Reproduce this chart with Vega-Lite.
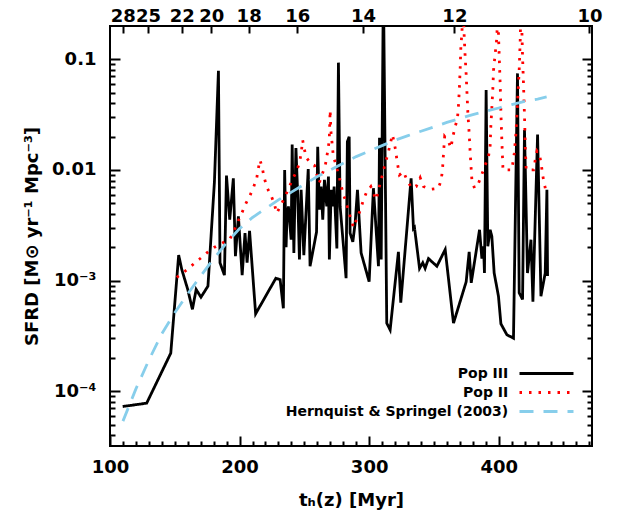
{
  "$schema": "https://vega.github.io/schema/vega-lite/v6.json",
  "autosize": {"type": "none"},
  "padding": {"left": 110, "top": 26, "right": 40, "bottom": 81},
  "width": 482,
  "height": 420,
  "background": "white",
  "datasets": {
    "sfrd": [
      {"series": "Pop III", "t": 109.8, "v": 7.28e-5},
      {"series": "Pop III", "t": 128.3, "v": 7.8e-5},
      {"series": "Pop III", "t": 146.9, "v": 2.21e-4},
      {"series": "Pop III", "t": 153.0, "v": 1.7e-3},
      {"series": "Pop III", "t": 155.4, "v": 1.26e-3},
      {"series": "Pop III", "t": 160.0, "v": 8.32e-4},
      {"series": "Pop III", "t": 163.6, "v": 5.5e-4},
      {"series": "Pop III", "t": 166.5, "v": 8.32e-4},
      {"series": "Pop III", "t": 170.2, "v": 7.08e-4},
      {"series": "Pop III", "t": 175.6, "v": 8.91e-4},
      {"series": "Pop III", "t": 180.6, "v": 7.83e-3},
      {"series": "Pop III", "t": 183.7, "v": 0.0789},
      {"series": "Pop III", "t": 184.9, "v": 1.45e-3},
      {"series": "Pop III", "t": 188.3, "v": 1.12e-3},
      {"series": "Pop III", "t": 189.9, "v": 8.91e-3},
      {"series": "Pop III", "t": 192.4, "v": 3.55e-3},
      {"series": "Pop III", "t": 195.2, "v": 8.41e-3},
      {"series": "Pop III", "t": 196.8, "v": 1.66e-3},
      {"series": "Pop III", "t": 199.1, "v": 3.8e-3},
      {"series": "Pop III", "t": 202.0, "v": 1.12e-3},
      {"series": "Pop III", "t": 204.2, "v": 2.69e-3},
      {"series": "Pop III", "t": 205.8, "v": 1.45e-3},
      {"series": "Pop III", "t": 207.7, "v": 2.82e-3},
      {"series": "Pop III", "t": 212.4, "v": 5.01e-4},
      {"series": "Pop III", "t": 228.0, "v": 1.05e-3},
      {"series": "Pop III", "t": 231.3, "v": 1.02e-3},
      {"series": "Pop III", "t": 233.8, "v": 5.62e-4},
      {"series": "Pop III", "t": 234.8, "v": 0.01},
      {"series": "Pop III", "t": 235.9, "v": 2.0e-3},
      {"series": "Pop III", "t": 236.6, "v": 3.8e-3},
      {"series": "Pop III", "t": 237.7, "v": 4.68e-3},
      {"series": "Pop III", "t": 239.8, "v": 2.34e-3},
      {"series": "Pop III", "t": 240.6, "v": 0.017},
      {"series": "Pop III", "t": 241.9, "v": 1.78e-3},
      {"series": "Pop III", "t": 243.5, "v": 0.0158},
      {"series": "Pop III", "t": 244.9, "v": 5.89e-3},
      {"series": "Pop III", "t": 246.2, "v": 1.55e-3},
      {"series": "Pop III", "t": 247.5, "v": 6.61e-3},
      {"series": "Pop III", "t": 249.6, "v": 1.7e-3},
      {"series": "Pop III", "t": 253.0, "v": 0.0102},
      {"series": "Pop III", "t": 254.4, "v": 1.35e-3},
      {"series": "Pop III", "t": 259.4, "v": 2.75e-3},
      {"series": "Pop III", "t": 260.3, "v": 0.0162},
      {"series": "Pop III", "t": 261.6, "v": 4.37e-3},
      {"series": "Pop III", "t": 262.9, "v": 7.08e-3},
      {"series": "Pop III", "t": 264.2, "v": 3.55e-3},
      {"series": "Pop III", "t": 265.5, "v": 8.13e-3},
      {"series": "Pop III", "t": 267.3, "v": 4.68e-3},
      {"series": "Pop III", "t": 268.6, "v": 8.71e-3},
      {"series": "Pop III", "t": 269.3, "v": 1.55e-3},
      {"series": "Pop III", "t": 270.7, "v": 6.61e-3},
      {"series": "Pop III", "t": 271.9, "v": 4.68e-3},
      {"series": "Pop III", "t": 273.0, "v": 7.08e-3},
      {"series": "Pop III", "t": 275.1, "v": 1.95e-3},
      {"series": "Pop III", "t": 276.3, "v": 0.0933},
      {"series": "Pop III", "t": 277.6, "v": 4.68e-3},
      {"series": "Pop III", "t": 280.2, "v": 2.04e-3},
      {"series": "Pop III", "t": 282.2, "v": 1.05e-3},
      {"series": "Pop III", "t": 283.2, "v": 0.018},
      {"series": "Pop III", "t": 284.6, "v": 0.02},
      {"series": "Pop III", "t": 285.3, "v": 2.69e-3},
      {"series": "Pop III", "t": 287.4, "v": 2.24e-3},
      {"series": "Pop III", "t": 289.2, "v": 3.31e-3},
      {"series": "Pop III", "t": 291.0, "v": 6.61e-3},
      {"series": "Pop III", "t": 293.8, "v": 1.78e-3},
      {"series": "Pop III", "t": 300.0, "v": 9.77e-4},
      {"series": "Pop III", "t": 303.3, "v": 6.84e-3},
      {"series": "Pop III", "t": 307.2, "v": 1.35e-3},
      {"series": "Pop III", "t": 308.0, "v": 0.0195},
      {"series": "Pop III", "t": 309.3, "v": 1.55e-3},
      {"series": "Pop III", "t": 311.0, "v": 0.5},
      {"series": "Pop III", "t": 313.6, "v": 4.12e-4},
      {"series": "Pop III", "t": 316.2, "v": 3.59e-4},
      {"series": "Pop III", "t": 322.6, "v": 1.82e-3},
      {"series": "Pop III", "t": 324.4, "v": 6.31e-4},
      {"series": "Pop III", "t": 332.4, "v": 8.41e-3},
      {"series": "Pop III", "t": 334.2, "v": 2.95e-3},
      {"series": "Pop III", "t": 335.0, "v": 3.02e-3},
      {"series": "Pop III", "t": 338.9, "v": 1.29e-3},
      {"series": "Pop III", "t": 341.4, "v": 1.45e-3},
      {"series": "Pop III", "t": 343.2, "v": 1.29e-3},
      {"series": "Pop III", "t": 345.8, "v": 1.58e-3},
      {"series": "Pop III", "t": 352.3, "v": 1.35e-3},
      {"series": "Pop III", "t": 358.7, "v": 1.91e-3},
      {"series": "Pop III", "t": 365.1, "v": 4.12e-4},
      {"series": "Pop III", "t": 374.9, "v": 9.77e-4},
      {"series": "Pop III", "t": 377.2, "v": 1.82e-3},
      {"series": "Pop III", "t": 378.8, "v": 9.55e-4},
      {"series": "Pop III", "t": 385.2, "v": 2.88e-3},
      {"series": "Pop III", "t": 387.0, "v": 1.58e-3},
      {"series": "Pop III", "t": 388.3, "v": 2.04e-3},
      {"series": "Pop III", "t": 389.0, "v": 1.17e-3},
      {"series": "Pop III", "t": 390.3, "v": 0.0528},
      {"series": "Pop III", "t": 391.6, "v": 2.04e-3},
      {"series": "Pop III", "t": 393.4, "v": 2.88e-3},
      {"series": "Pop III", "t": 394.7, "v": 2.51e-3},
      {"series": "Pop III", "t": 396.5, "v": 1.17e-3},
      {"series": "Pop III", "t": 399.8, "v": 7.24e-4},
      {"series": "Pop III", "t": 401.7, "v": 4.07e-4},
      {"series": "Pop III", "t": 406.3, "v": 3.24e-4},
      {"series": "Pop III", "t": 411.4, "v": 3.02e-4},
      {"series": "Pop III", "t": 414.5, "v": 0.0746},
      {"series": "Pop III", "t": 415.8, "v": 7.76e-4},
      {"series": "Pop III", "t": 418.4, "v": 6.76e-4},
      {"series": "Pop III", "t": 419.9, "v": 0.0229},
      {"series": "Pop III", "t": 422.2, "v": 1.17e-3},
      {"series": "Pop III", "t": 424.9, "v": 2.34e-3},
      {"series": "Pop III", "t": 426.4, "v": 6.46e-4},
      {"series": "Pop III", "t": 430.0, "v": 0.0209},
      {"series": "Pop III", "t": 432.6, "v": 7.24e-4},
      {"series": "Pop III", "t": 435.9, "v": 1.17e-3},
      {"series": "Pop III", "t": 437.2, "v": 6.61e-3},
      {"series": "Pop III", "t": 437.7, "v": 1.1e-3},

      {"series": "Pop II", "t": 151.5, "v": 1.07e-3},
      {"series": "Pop II", "t": 157.4, "v": 1.2e-3},
      {"series": "Pop II", "t": 162.5, "v": 1.35e-3},
      {"series": "Pop II", "t": 168.7, "v": 1.55e-3},
      {"series": "Pop II", "t": 174.7, "v": 1.78e-3},
      {"series": "Pop II", "t": 180.6, "v": 2.0e-3},
      {"series": "Pop II", "t": 186.8, "v": 2.19e-3},
      {"series": "Pop II", "t": 192.7, "v": 2.4e-3},
      {"series": "Pop II", "t": 196.0, "v": 2.88e-3},
      {"series": "Pop II", "t": 198.6, "v": 3.39e-3},
      {"series": "Pop II", "t": 201.7, "v": 4.07e-3},
      {"series": "Pop II", "t": 205.0, "v": 5.01e-3},
      {"series": "Pop II", "t": 208.1, "v": 5.89e-3},
      {"series": "Pop II", "t": 211.0, "v": 7.08e-3},
      {"series": "Pop II", "t": 213.3, "v": 8.51e-3},
      {"series": "Pop II", "t": 214.5, "v": 0.01035},
      {"series": "Pop II", "t": 215.8, "v": 0.0123},
      {"series": "Pop II", "t": 217.6, "v": 0.01035},
      {"series": "Pop II", "t": 219.0, "v": 8.51e-3},
      {"series": "Pop II", "t": 221.2, "v": 6.92e-3},
      {"series": "Pop II", "t": 224.3, "v": 5.89e-3},
      {"series": "Pop II", "t": 226.9, "v": 4.9e-3},
      {"series": "Pop II", "t": 228.7, "v": 4.07e-3},
      {"series": "Pop II", "t": 231.3, "v": 4.68e-3},
      {"series": "Pop II", "t": 234.4, "v": 5.5e-3},
      {"series": "Pop II", "t": 237.7, "v": 6.76e-3},
      {"series": "Pop II", "t": 240.3, "v": 7.94e-3},
      {"series": "Pop II", "t": 243.6, "v": 9.55e-3},
      {"series": "Pop II", "t": 246.2, "v": 0.0115},
      {"series": "Pop II", "t": 247.5, "v": 0.0141},
      {"series": "Pop II", "t": 248.7, "v": 0.0186},
      {"series": "Pop II", "t": 249.8, "v": 0.0158},
      {"series": "Pop II", "t": 251.4, "v": 0.013},
      {"series": "Pop II", "t": 255.0, "v": 0.0114},
      {"series": "Pop II", "t": 257.8, "v": 0.011},
      {"series": "Pop II", "t": 259.6, "v": 9.12e-3},
      {"series": "Pop II", "t": 261.6, "v": 7.67e-3},
      {"series": "Pop II", "t": 263.5, "v": 9.02e-3},
      {"series": "Pop II", "t": 266.0, "v": 0.0107},
      {"series": "Pop II", "t": 267.3, "v": 0.0132},
      {"series": "Pop II", "t": 268.6, "v": 0.0162},
      {"series": "Pop II", "t": 269.3, "v": 0.02},
      {"series": "Pop II", "t": 269.9, "v": 0.0347},
      {"series": "Pop II", "t": 270.5, "v": 0.0224},
      {"series": "Pop II", "t": 272.4, "v": 0.0132},
      {"series": "Pop II", "t": 274.5, "v": 0.0111},
      {"series": "Pop II", "t": 276.3, "v": 9.12e-3},
      {"series": "Pop II", "t": 278.1, "v": 7.59e-3},
      {"series": "Pop II", "t": 279.6, "v": 6.24e-3},
      {"series": "Pop II", "t": 282.2, "v": 5.13e-3},
      {"series": "Pop II", "t": 284.0, "v": 4.27e-3},
      {"series": "Pop II", "t": 286.1, "v": 3.55e-3},
      {"series": "Pop II", "t": 287.9, "v": 3.02e-3},
      {"series": "Pop II", "t": 290.5, "v": 3.63e-3},
      {"series": "Pop II", "t": 293.3, "v": 4.37e-3},
      {"series": "Pop II", "t": 295.6, "v": 5.37e-3},
      {"series": "Pop II", "t": 298.2, "v": 6.38e-3},
      {"series": "Pop II", "t": 301.3, "v": 7.08e-3},
      {"series": "Pop II", "t": 303.3, "v": 6.17e-3},
      {"series": "Pop II", "t": 305.2, "v": 5.37e-3},
      {"series": "Pop II", "t": 307.2, "v": 6.38e-3},
      {"series": "Pop II", "t": 308.5, "v": 7.67e-3},
      {"series": "Pop II", "t": 310.6, "v": 9.33e-3},
      {"series": "Pop II", "t": 312.4, "v": 0.0115},
      {"series": "Pop II", "t": 314.4, "v": 0.0138},
      {"series": "Pop II", "t": 316.2, "v": 0.017},
      {"series": "Pop II", "t": 318.0, "v": 0.0209},
      {"series": "Pop II", "t": 320.6, "v": 0.0148},
      {"series": "Pop II", "t": 321.4, "v": 0.0123},
      {"series": "Pop II", "t": 323.4, "v": 9.02e-3},
      {"series": "Pop II", "t": 326.5, "v": 9.66e-3},
      {"series": "Pop II", "t": 329.1, "v": 8.13e-3},
      {"series": "Pop II", "t": 332.9, "v": 6.84e-3},
      {"series": "Pop II", "t": 336.3, "v": 7.08e-3},
      {"series": "Pop II", "t": 339.4, "v": 8.51e-3},
      {"series": "Pop II", "t": 341.9, "v": 7.08e-3},
      {"series": "Pop II", "t": 347.1, "v": 6.68e-3},
      {"series": "Pop II", "t": 353.5, "v": 6.84e-3},
      {"series": "Pop II", "t": 355.6, "v": 8.13e-3},
      {"series": "Pop II", "t": 356.6, "v": 0.01},
      {"series": "Pop II", "t": 357.4, "v": 0.0141},
      {"series": "Pop II", "t": 358.3, "v": 0.02},
      {"series": "Pop II", "t": 361.3, "v": 0.018},
      {"series": "Pop II", "t": 363.1, "v": 0.0158},
      {"series": "Pop II", "t": 364.6, "v": 0.02},
      {"series": "Pop II", "t": 366.4, "v": 0.0245},
      {"series": "Pop II", "t": 368.2, "v": 0.0295},
      {"series": "Pop II", "t": 369.0, "v": 0.0389},
      {"series": "Pop II", "t": 369.7, "v": 0.0562},
      {"series": "Pop II", "t": 370.3, "v": 0.0851},
      {"series": "Pop II", "t": 370.8, "v": 0.13},
      {"series": "Pop II", "t": 371.6, "v": 0.172},
      {"series": "Pop II", "t": 372.5, "v": 0.316},
      {"series": "Pop II", "t": 373.4, "v": 0.158},
      {"series": "Pop II", "t": 374.1, "v": 0.106},
      {"series": "Pop II", "t": 374.9, "v": 0.0724},
      {"series": "Pop II", "t": 376.2, "v": 0.0324},
      {"series": "Pop II", "t": 377.2, "v": 0.0214},
      {"series": "Pop II", "t": 378.0, "v": 0.0141},
      {"series": "Pop II", "t": 378.8, "v": 0.01},
      {"series": "Pop II", "t": 379.3, "v": 8.13e-3},
      {"series": "Pop II", "t": 381.3, "v": 6.84e-3},
      {"series": "Pop II", "t": 384.4, "v": 7.59e-3},
      {"series": "Pop II", "t": 387.0, "v": 9.12e-3},
      {"series": "Pop II", "t": 389.6, "v": 0.0111},
      {"series": "Pop II", "t": 392.1, "v": 0.0132},
      {"series": "Pop II", "t": 393.4, "v": 0.0166},
      {"series": "Pop II", "t": 393.9, "v": 0.0245},
      {"series": "Pop II", "t": 394.7, "v": 0.0363},
      {"series": "Pop II", "t": 395.5, "v": 0.055},
      {"series": "Pop II", "t": 396.0, "v": 0.0794},
      {"series": "Pop II", "t": 397.3, "v": 0.113},
      {"series": "Pop II", "t": 398.6, "v": 0.158},
      {"series": "Pop II", "t": 399.2, "v": 0.316},
      {"series": "Pop II", "t": 399.9, "v": 0.158},
      {"series": "Pop II", "t": 400.4, "v": 0.106},
      {"series": "Pop II", "t": 401.2, "v": 0.0562},
      {"series": "Pop II", "t": 401.7, "v": 0.0324},
      {"series": "Pop II", "t": 402.5, "v": 0.0174},
      {"series": "Pop II", "t": 403.3, "v": 0.01},
      {"series": "Pop II", "t": 410.1, "v": 0.01},
      {"series": "Pop II", "t": 412.0, "v": 0.0141},
      {"series": "Pop II", "t": 413.3, "v": 0.0214},
      {"series": "Pop II", "t": 414.5, "v": 0.0398},
      {"series": "Pop II", "t": 415.8, "v": 0.0794},
      {"series": "Pop II", "t": 416.6, "v": 0.149},
      {"series": "Pop II", "t": 417.2, "v": 0.316},
      {"series": "Pop II", "t": 417.9, "v": 0.178},
      {"series": "Pop II", "t": 418.4, "v": 0.106},
      {"series": "Pop II", "t": 419.2, "v": 0.0562},
      {"series": "Pop II", "t": 420.0, "v": 0.0282},
      {"series": "Pop II", "t": 420.5, "v": 0.0162},
      {"series": "Pop II", "t": 421.2, "v": 0.01},
      {"series": "Pop II", "t": 426.9, "v": 0.01},
      {"series": "Pop II", "t": 428.2, "v": 0.0123},
      {"series": "Pop II", "t": 429.5, "v": 0.0148},
      {"series": "Pop II", "t": 431.5, "v": 0.0136},
      {"series": "Pop II", "t": 432.8, "v": 0.0114},
      {"series": "Pop II", "t": 433.8, "v": 9.12e-3},
      {"series": "Pop II", "t": 435.1, "v": 7.59e-3},
      {"series": "Pop II", "t": 436.7, "v": 6.24e-3},

      {"series": "Hernquist & Springel (2003)", "t": 110, "v": 5.37e-5},
      {"series": "Hernquist & Springel (2003)", "t": 120, "v": 1.05e-4},
      {"series": "Hernquist & Springel (2003)", "t": 130, "v": 1.91e-4},
      {"series": "Hernquist & Springel (2003)", "t": 140, "v": 3.31e-4},
      {"series": "Hernquist & Springel (2003)", "t": 150, "v": 5.13e-4},
      {"series": "Hernquist & Springel (2003)", "t": 160, "v": 7.59e-4},
      {"series": "Hernquist & Springel (2003)", "t": 170, "v": 1.1e-3},
      {"series": "Hernquist & Springel (2003)", "t": 180, "v": 1.58e-3},
      {"series": "Hernquist & Springel (2003)", "t": 190, "v": 2.19e-3},
      {"series": "Hernquist & Springel (2003)", "t": 200, "v": 2.95e-3},
      {"series": "Hernquist & Springel (2003)", "t": 210, "v": 3.72e-3},
      {"series": "Hernquist & Springel (2003)", "t": 220, "v": 4.47e-3},
      {"series": "Hernquist & Springel (2003)", "t": 230, "v": 5.37e-3},
      {"series": "Hernquist & Springel (2003)", "t": 240, "v": 6.31e-3},
      {"series": "Hernquist & Springel (2003)", "t": 250, "v": 7.41e-3},
      {"series": "Hernquist & Springel (2003)", "t": 260, "v": 8.71e-3},
      {"series": "Hernquist & Springel (2003)", "t": 270, "v": 0.01},
      {"series": "Hernquist & Springel (2003)", "t": 280, "v": 0.0115},
      {"series": "Hernquist & Springel (2003)", "t": 290, "v": 0.0132},
      {"series": "Hernquist & Springel (2003)", "t": 300, "v": 0.0148},
      {"series": "Hernquist & Springel (2003)", "t": 310, "v": 0.0166},
      {"series": "Hernquist & Springel (2003)", "t": 320, "v": 0.0186},
      {"series": "Hernquist & Springel (2003)", "t": 330, "v": 0.0204},
      {"series": "Hernquist & Springel (2003)", "t": 340, "v": 0.0224},
      {"series": "Hernquist & Springel (2003)", "t": 350, "v": 0.0245},
      {"series": "Hernquist & Springel (2003)", "t": 360, "v": 0.0269},
      {"series": "Hernquist & Springel (2003)", "t": 370, "v": 0.0292},
      {"series": "Hernquist & Springel (2003)", "t": 380, "v": 0.0316},
      {"series": "Hernquist & Springel (2003)", "t": 390, "v": 0.0339},
      {"series": "Hernquist & Springel (2003)", "t": 400, "v": 0.0363},
      {"series": "Hernquist & Springel (2003)", "t": 410, "v": 0.0389},
      {"series": "Hernquist & Springel (2003)", "t": 420, "v": 0.0417},
      {"series": "Hernquist & Springel (2003)", "t": 430, "v": 0.0437},
      {"series": "Hernquist & Springel (2003)", "t": 437, "v": 0.0457}
    ]
  },
  "data": {"name": "sfrd"},
  "resolve": {"axis": {"x": "independent", "y": "independent"}},
  "layer": [
    {
      "mark": {"type": "line", "clip": true, "strokeWidth": 2.8},
      "encoding": {
        "x": {"field": "t", "type": "quantitative",
          "scale": {"domain": [100, 472], "nice": false, "zero": false},
          "axis": {"orient": "bottom", "values": [100, 200, 300, 400], "tickSize": -10, "labelPadding": 22, "title": "tₕ(z)  [Myr]", "titlePadding": 15}},
        "y": {"field": "v", "type": "quantitative",
          "scale": {"type": "log", "domain": [3.2e-5, 0.2], "nice": false},
          "axis": {"orient": "left", "values": [0.0001, 0.001, 0.01, 0.1], "tickSize": -10, "labelPadding": 24,
            "labelExpr": "datum.value > 0.05 ? '0.1' : datum.value > 0.005 ? '0.01' : datum.value > 0.0005 ? '10⁻³' : '10⁻⁴'",
            "title": "SFRD [M⊙ yr⁻¹ Mpc⁻³]", "titlePadding": 10}},
        "color": {"field": "series", "type": "nominal",
          "scale": {"domain": ["Pop III", "Pop II", "Hernquist & Springel (2003)"], "range": ["black", "#ff0000", "#87ceeb"]},
          "legend": {"orient": "none", "legendX": 425, "legendY": 336, "title": null}},
        "strokeDash": {"field": "series", "type": "nominal",
          "scale": {"domain": ["Pop III", "Pop II", "Hernquist & Springel (2003)"], "range": [[1, 0], [2.5, 7], [14, 10]]},
          "legend": {"orient": "none", "legendX": 425, "legendY": 336, "title": null}}
      }
    },
    {
      "mark": {"type": "point", "opacity": 0},
      "encoding": {
        "x": {"field": "t", "type": "quantitative",
          "axis": {"orient": "bottom", "values": [110, 120, 130, 140, 150, 160, 170, 180, 190, 210, 220, 230, 240, 250, 260, 270, 280, 290, 310, 320, 330, 340, 350, 360, 370, 380, 390, 410, 420, 430, 440, 450, 460, 470], "tickSize": -5, "labels": false, "title": null}},
        "y": {"field": "v", "type": "quantitative",
          "axis": {"orient": "left", "values": [4e-5, 5e-5, 6e-5, 7e-5, 8e-5, 9e-5, 2e-4, 3e-4, 4e-4, 5e-4, 6e-4, 7e-4, 8e-4, 9e-4, 2e-3, 3e-3, 4e-3, 5e-3, 6e-3, 7e-3, 8e-3, 9e-3, 0.02, 0.03, 0.04, 0.05, 0.06, 0.07, 0.08, 0.09], "tickSize": -5, "labels": false, "title": null}}
      }
    },
    {
      "mark": {"type": "point", "opacity": 0},
      "encoding": {
        "x": {"field": "t", "type": "quantitative",
          "axis": {"orient": "top", "values": [109.8, 129.3, 155.4, 178.2, 207.0, 244.6, 295.2, 365.8, 470], "tickSize": -7, "labelPadding": 8, "title": null,
            "labelExpr": "datum.value < 115 ? '28' : datum.value < 140 ? '25' : datum.value < 165 ? '22' : datum.value < 190 ? '20' : datum.value < 220 ? '18' : datum.value < 260 ? '16' : datum.value < 320 ? '14' : datum.value < 400 ? '12' : '10'"}},
        "y": {"field": "v", "type": "quantitative",
          "axis": {"orient": "right", "values": [0.0001, 0.001, 0.01, 0.1], "tickSize": -10, "labels": false, "title": null}}
      }
    },
    {
      "mark": {"type": "point", "opacity": 0},
      "encoding": {
        "x": {"field": "t", "type": "quantitative", "axis": null},
        "y": {"field": "v", "type": "quantitative",
          "axis": {"orient": "right", "values": [4e-5, 5e-5, 6e-5, 7e-5, 8e-5, 9e-5, 2e-4, 3e-4, 4e-4, 5e-4, 6e-4, 7e-4, 8e-4, 9e-4, 2e-3, 3e-3, 4e-3, 5e-3, 6e-3, 7e-3, 8e-3, 9e-3, 0.02, 0.03, 0.04, 0.05, 0.06, 0.07, 0.08, 0.09], "tickSize": -5, "labels": false, "title": null}}
      }
    }
  ],
  "config": {
    "view": {"stroke": "black", "strokeWidth": 2},
    "axis": {"domain": false, "grid": false, "tickColor": "black", "tickWidth": 2, "labelColor": "black", "labelFont": "DejaVu Sans", "labelFontWeight": "bold", "labelFontSize": 18, "titleColor": "black", "titleFont": "DejaVu Sans", "titleFontWeight": "bold", "titleFontSize": 18, "labelOverlap": false, "labelFlush": false},
    "legend": {"symbolType": "M-2.77,0L2.77,0", "symbolSize": 380, "symbolStrokeWidth": 2.8, "labelAlign": "right", "labelOffset": -49.75, "labelFont": "DejaVu Sans", "labelFontWeight": "bold", "labelFontSize": 14, "labelColor": "black", "rowPadding": 0, "labelLimit": 400}
  }
}
